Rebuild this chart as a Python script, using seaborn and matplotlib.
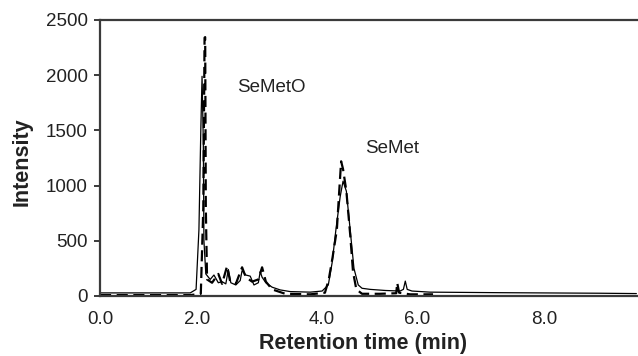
import numpy as np
import pandas as pd
import matplotlib
matplotlib.use("Agg")
import matplotlib.pyplot as plt
import seaborn as sns

# ---------------- data ----------------
solid_time = [0.00, 1.86, 1.98, 2.03, 2.06, 2.08, 2.10, 2.11, 2.14, 2.21, 2.27, 2.34,
              2.40, 2.46, 2.50, 2.54, 2.62, 2.69, 2.72, 2.78, 2.85, 2.91, 2.98, 3.01,
              3.04, 3.10, 3.20, 3.33, 3.49, 3.81, 4.00, 4.13, 4.21, 4.29, 4.38, 4.44,
              4.51, 4.59, 4.67, 4.76, 4.84, 5.01, 5.33, 5.64, 5.71, 5.75, 5.79, 5.89,
              6.20, 7.31, 8.88, 9.45]
solid_intensity = [28, 28, 60, 600, 1500, 1990, 1400, 500, 200, 150, 190, 120,
                   130, 110, 240, 120, 100, 140, 230, 190, 180, 100, 120, 220,
                   170, 120, 80, 55, 40, 35, 45, 100, 300, 600, 900, 1040,
                   950, 600, 250, 100, 70, 60, 50, 45, 60, 135, 60, 45,
                   35, 30, 25, 22]

dashed_time = [0.00, 1.86, 2.06, 2.10, 2.12, 2.13, 2.14, 2.16, 2.24, 2.34, 2.40,
               2.48, 2.53, 2.62, 2.72, 2.78, 2.88, 2.98, 3.04, 3.10, 3.20, 3.41,
               3.81, 4.06, 4.14, 4.22, 4.31, 4.36, 4.40, 4.44, 4.51, 4.59, 4.65,
               4.72, 4.84, 5.22, 5.56, 5.58, 5.62, 5.85, 6.25]
dashed_intensity = [8, 8, 20, 800, 2340, 2345, 800, 150, 120, 200, 110,
                    270, 130, 110, 260, 170, 130, 150, 260, 130, 60, 20,
                    15, 30, 150, 350, 600, 950, 1220, 1150, 950, 560, 220,
                    60, 20, 20, 25, 120, 30, 15, 15]

x_ticks = [0.0, 2.0, 4.0, 6.0, 8.0]
x_tick_labels = ["0.0", "2.0", "4.0", "6.0", "8.0"]
y_ticks = [0, 500, 1000, 1500, 2000, 2500]
peak_labels = ["SeMetO", "SeMet"]
peak_label_time = [2.64, 4.91]
peak_label_intensity = [1890, 1340]

# tick spacing of the original time axis (relative screen units)
_axis_pos = np.array([0.0, 97.0, 222.0, 317.0, 444.0])
_axis_t = np.array(x_ticks)


def _fwd(t):
    t = np.asarray(t, dtype=float)
    out = np.interp(t, _axis_t, _axis_pos)
    s0 = (_axis_pos[1] - _axis_pos[0]) / (_axis_t[1] - _axis_t[0])
    s1 = (_axis_pos[-1] - _axis_pos[-2]) / (_axis_t[-1] - _axis_t[-2])
    out = np.where(t < _axis_t[0], _axis_pos[0] + (t - _axis_t[0]) * s0, out)
    out = np.where(t > _axis_t[-1], _axis_pos[-1] + (t - _axis_t[-1]) * s1, out)
    return out


def _inv(p):
    p = np.asarray(p, dtype=float)
    out = np.interp(p, _axis_pos, _axis_t)
    s0 = (_axis_t[1] - _axis_t[0]) / (_axis_pos[1] - _axis_pos[0])
    s1 = (_axis_t[-1] - _axis_t[-2]) / (_axis_pos[-1] - _axis_pos[-2])
    out = np.where(p < _axis_pos[0], _axis_t[0] + (p - _axis_pos[0]) * s0, out)
    out = np.where(p > _axis_pos[-1], _axis_t[-1] + (p - _axis_pos[-1]) * s1, out)
    return out


# ---------------- style ----------------
sns.set_style("ticks")
plt.rcParams["font.family"] = ["Liberation Sans", "DejaVu Sans"]
text_color = "#222222"
spine_color = "#3a3a3a"

fig = plt.figure(figsize=(6.38, 3.56), dpi=100)
ax = fig.add_axes([100 / 638, 1 - 296 / 356, 537 / 638, 276 / 356])

solid_df = pd.DataFrame({"time": solid_time, "intensity": solid_intensity})
dashed_df = pd.DataFrame({"time": dashed_time, "intensity": dashed_intensity})

sns.lineplot(data=solid_df, x="time", y="intensity", ax=ax, color="black",
             linewidth=0.9, estimator=None, sort=False)
sns.lineplot(data=dashed_df, x="time", y="intensity", ax=ax, color="black",
             linewidth=1.6, linestyle=(0, (5, 2.5)), estimator=None, sort=False)

ax.set_xscale("function", functions=(_fwd, _inv))
ax.set_xlim(0, 9.46)
ax.set_ylim(0, 2500)
ax.set_xticks(x_ticks)
ax.set_xticklabels(x_tick_labels)
ax.set_yticks(y_ticks)
ax.set_yticklabels([str(v) for v in y_ticks])

ax.tick_params(axis="x", length=0, pad=11, labelsize=13.5, labelcolor=text_color)
ax.tick_params(axis="y", direction="out", length=4, width=1.4, color=spine_color,
               pad=5, labelsize=13.5, labelcolor=text_color)

for side in ["left", "bottom", "top"]:
    ax.spines[side].set_visible(True)
    ax.spines[side].set_color(spine_color)
    ax.spines[side].set_linewidth(1.6)
ax.spines["right"].set_visible(False)

ax.set_xlabel("Retention time (min)", fontsize=15.5, fontweight="bold", color=text_color)
ax.set_ylabel("Intensity", fontsize=15.5, fontweight="bold", color=text_color)
ax.xaxis.set_label_coords(0.49, -0.135)
ax.yaxis.set_label_coords(-0.125, 0.485)

for lab, t, v in zip(peak_labels, peak_label_time, peak_label_intensity):
    ax.text(t, v, lab, ha="left", va="center", fontsize=13.5, color=text_color)

fig.savefig("out.png", dpi=100)
